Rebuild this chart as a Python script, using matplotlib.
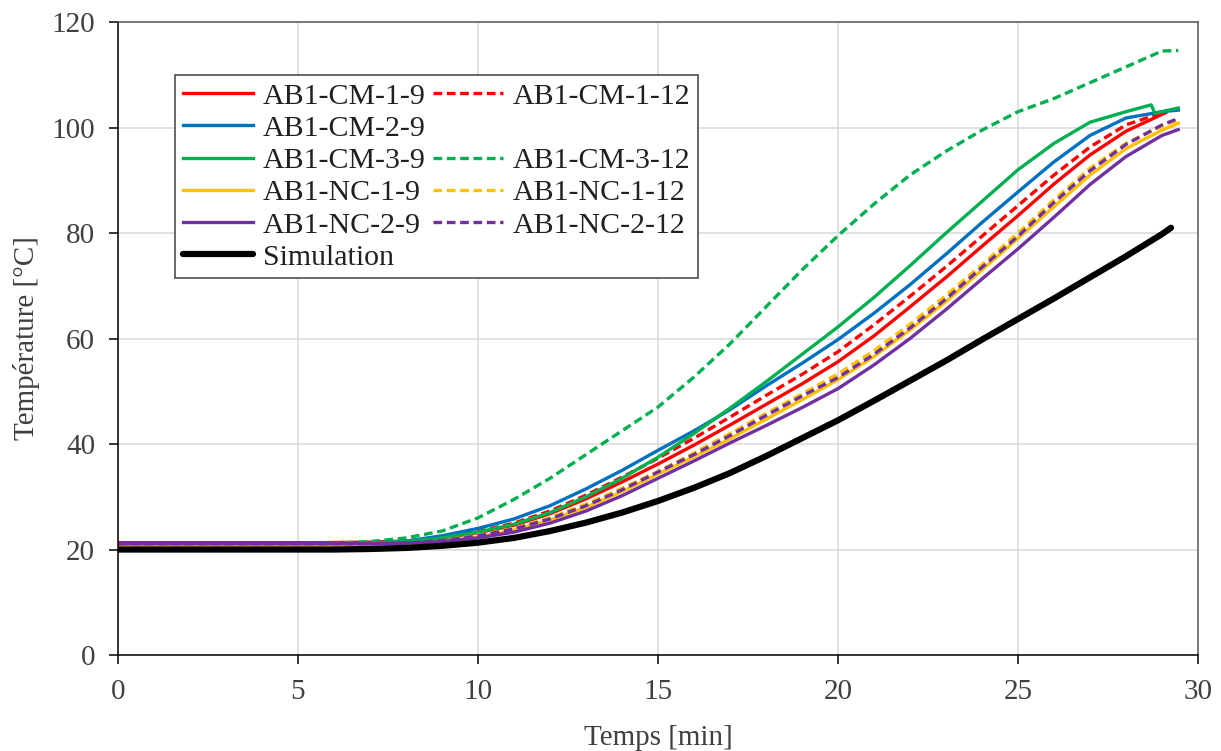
import matplotlib
matplotlib.use('Agg')
import matplotlib.pyplot as plt
from matplotlib.lines import Line2D

# temps de mesure [min]
t_main = [0, 4, 6, 7, 8, 9, 10, 11, 12, 13, 14, 15, 16, 17, 18, 19, 20,
          21, 22, 23, 24, 25, 26, 27, 28, 29, 29.45]

cm_3_12 = [21, 21, 21.2, 21.5, 22.2, 23.5, 26, 29.5, 33.5, 38, 42.5, 47, 52.7,
           59, 66, 73, 79.5, 85.5, 91, 95.5, 99.5, 103, 105.5, 108.5, 111.5, 114.5, 114.6]
cm_2_9 = [21, 21, 21, 21.2, 21.6, 22.6, 24, 25.8, 28.3, 31.5, 35, 38.8, 42.5,
          46.5, 51, 55.3, 59.8, 64.8, 70.2, 76, 82, 87.8, 93.5, 98.5, 101.8, 103, 103.3]
nc_1_12 = [20.7, 20.7, 20.7, 20.8, 21, 21.7, 22.7, 24, 26, 28.6, 31.6, 34.8, 38.3,
           42, 45.8, 49.5, 53.3, 57.7, 62.7, 68.2, 74, 80, 86.3, 92.3, 97, 100.3, 101.5]
nc_1_9 = [20.7, 20.7, 20.7, 20.7, 20.9, 21.5, 22.4, 23.7, 25.6, 28, 31, 34.3, 37.6,
          41, 44.7, 48.4, 52.2, 56.6, 61.6, 67, 73, 79, 85, 91, 96, 99.5, 100.8]
nc_2_12 = [21.1, 21.1, 21.1, 21.1, 21.2, 21.7, 22.6, 23.9, 25.8, 28.3, 31.3, 34.7, 38,
           41.6, 45.4, 49.1, 52.6, 57, 62, 67.5, 73.5, 79.4, 85.8, 91.8, 96.8, 100.5, 101.7]
nc_2_9 = [21.1, 21.1, 21.1, 21.1, 21.2, 21.5, 22.2, 23.3, 25, 27.3, 30.2, 33.5, 36.8,
          40.2, 43.5, 46.9, 50.5, 55, 60, 65.5, 71.3, 77, 83, 89.2, 94.5, 98.5, 99.6]

# essai CM-3-9 (petit saut vers 28.7 min)
t_cm_3_9 = [0, 6, 7, 8, 9, 10, 11, 12, 13, 14, 15, 16, 17, 18, 19, 20, 21, 22,
            23, 24, 25, 26, 27, 28, 28.7, 28.8, 29.45]
cm_3_9 = [21, 21, 21.2, 21.5, 22.2, 23.3, 24.8, 27, 30, 33.5, 37.5, 42, 46.8, 51.8,
          57, 62.2, 67.8, 73.8, 80, 86, 92, 97, 101, 103, 104.3, 102.7, 103.7]

# essais CM-1 (fin vers 29.1 min)
t_cm_1 = [0, 5.5, 7, 8, 9, 10, 11, 12, 13, 14, 15, 16, 17, 18, 19, 20, 21, 22,
          23, 24, 25, 26, 27, 28, 29, 29.1]
cm_1_9 = [21.3, 21.3, 21.4, 21.6, 22.2, 23.2, 24.6, 26.8, 29.6, 32.8, 36.2, 39.8, 43.6,
          47.5, 51.4, 55.6, 60.5, 66, 71.6, 77.5, 83.3, 89.3, 94.8, 99.3, 102.5, 102.8]
cm_1_12 = [21.1, 21.1, 21.3, 21.5, 22.3, 23.4, 25, 27.3, 30.3, 33.7, 37.3, 41.1, 45.1,
           49.2, 53.2, 57.5, 62.6, 68, 73.6, 79.4, 85.2, 91, 96.3, 100.5, 102.8, 103]

# simulation
t_sim = [0, 6, 7, 8, 9, 10, 11, 12, 13, 14, 15, 16, 17, 18, 19, 20, 21, 22, 23,
         24, 25, 26, 27, 28, 29, 29.25]
sim = [20, 20, 20.1, 20.3, 20.7, 21.3, 22.2, 23.5, 25.1, 27, 29.2, 31.7, 34.5, 37.7,
       41.1, 44.5, 48.2, 52, 55.8, 59.8, 63.7, 67.6, 71.6, 75.6, 79.8, 81]

RED = '#FF0000'
BLUE = '#0070C0'
GREEN = '#00B050'
YELLOW = '#FFC000'
PURPLE = '#7030A0'
TEXT = '#404040'

plt.rcParams['font.family'] = ['Liberation Serif', 'DejaVu Serif']
plt.rcParams['font.size'] = 21

fig = plt.figure(figsize=(12.21, 7.51), dpi=100)
ax = fig.add_axes([0.0966, 0.1278, 0.8846, 0.8429])

lw = 2.4
dash = (2.6, 1.4)

l_cm19, = ax.plot(t_cm_1, cm_1_9, color=RED, lw=lw)
l_cm112, = ax.plot(t_cm_1, cm_1_12, color=RED, lw=lw, dashes=dash)
l_cm29, = ax.plot(t_main, cm_2_9, color=BLUE, lw=lw)
l_cm39, = ax.plot(t_cm_3_9, cm_3_9, color=GREEN, lw=lw)
l_cm312, = ax.plot(t_main, cm_3_12, color=GREEN, lw=lw, dashes=dash)
l_nc19, = ax.plot(t_main, nc_1_9, color=YELLOW, lw=lw)
l_nc112, = ax.plot(t_main, nc_1_12, color=YELLOW, lw=lw, dashes=dash)
l_nc29, = ax.plot(t_main, nc_2_9, color=PURPLE, lw=lw)
l_nc212, = ax.plot(t_main, nc_2_12, color=PURPLE, lw=lw, dashes=dash)
l_sim, = ax.plot(t_sim, sim, color='black', lw=4.5, solid_capstyle='round')

ax.set_xlim(0, 30)
ax.set_ylim(0, 120)
ax.set_xticks(range(0, 31, 5))
ax.set_yticks(range(0, 121, 20))
ax.grid(True, color='#D9D9D9', lw=1.1)
ax.set_axisbelow(True)

for side in ['top', 'right']:
    ax.spines[side].set_color('#595959')
    ax.spines[side].set_linewidth(1.1)
for side in ['left', 'bottom']:
    ax.spines[side].set_color('black')
    ax.spines[side].set_linewidth(1.1)
ax.tick_params(direction='out', length=6.5, width=1.1, labelsize=21, labelcolor=TEXT)
ax.tick_params(axis='y', pad=10)
ax.tick_params(axis='x', pad=11)

ax.set_xlabel('Temps [min]', fontsize=21, color=TEXT, labelpad=14)
ax.set_ylabel('Température [°C]', fontsize=21, color=TEXT, labelpad=8)

# legende sur deux colonnes, avec des cases vides
blank = Line2D([], [], color='none')
handles = [l_cm19, l_cm29, l_cm39, l_nc19, l_nc29, l_sim,
           l_cm112, blank, l_cm312, l_nc112, l_nc212, blank]
labels = ['AB1-CM-1-9', 'AB1-CM-2-9', 'AB1-CM-3-9', 'AB1-NC-1-9', 'AB1-NC-2-9', 'Simulation',
          'AB1-CM-1-12', '', 'AB1-CM-3-12', 'AB1-NC-1-12', 'AB1-NC-2-12', '']
leg = ax.legend(handles, labels, ncol=2, loc='upper left', bbox_to_anchor=(0.053, 0.916),
                borderaxespad=0, fontsize=21.5, handlelength=2.35, handletextpad=0.33,
                columnspacing=0.25, labelspacing=0.18, borderpad=0.25,
                fancybox=False, framealpha=1, edgecolor='#404040')
leg.get_frame().set_linewidth(1.1)
for txt in leg.get_texts():
    txt.set_color('#202020')

fig.savefig('out.png', dpi=100)
